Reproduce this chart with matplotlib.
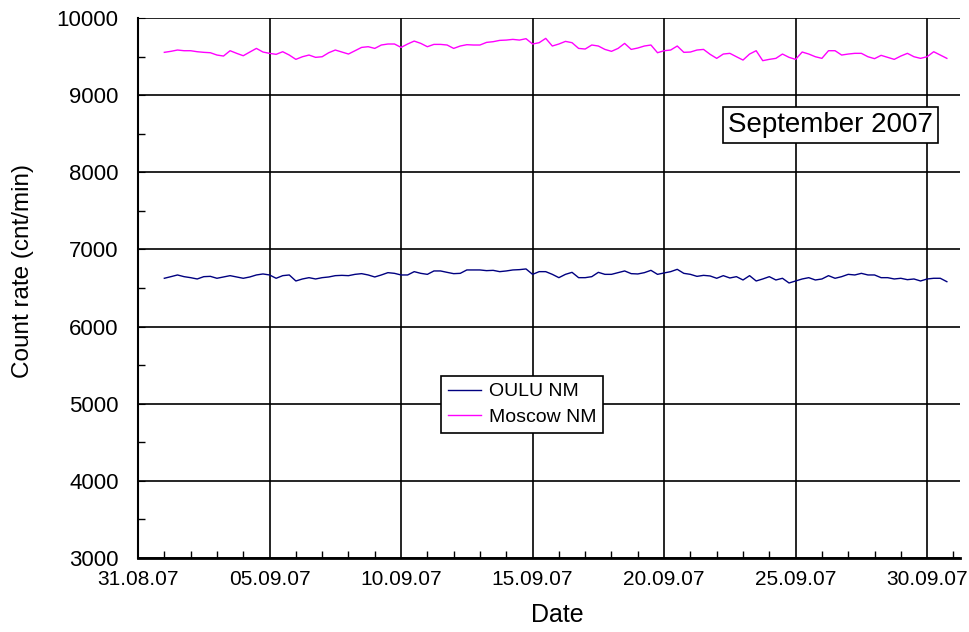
import numpy as np
import pandas as pd
import matplotlib
matplotlib.use('Agg')
import matplotlib.pyplot as plt
import matplotlib.dates as mdates
from matplotlib.ticker import MultipleLocator

plt.rcParams['font.family'] = ['Liberation Sans', 'DejaVu Sans']

# 6-hourly readings, 01.09.2007 00:00 onwards
times = pd.date_range('2007-09-01 00:00', periods=120, freq='6h')

moscow = [
    9555, 9568, 9585, 9576, 9576, 9563, 9555, 9550, 9520, 9507,
    9576, 9542, 9511, 9559, 9606, 9559, 9542, 9529, 9563, 9520,
    9464, 9498, 9520, 9490, 9498, 9550, 9585, 9559, 9533, 9576,
    9619, 9628, 9606, 9650, 9663, 9663, 9619, 9663, 9701, 9671,
    9628, 9658, 9658, 9650, 9606, 9637, 9654, 9650, 9650, 9684,
    9693, 9710, 9714, 9723, 9714, 9732, 9663, 9680, 9736, 9637,
    9663, 9697, 9680, 9606, 9598, 9650, 9637, 9593, 9568, 9606,
    9671, 9593, 9611, 9637, 9650, 9550, 9576, 9585, 9637, 9555,
    9559, 9585, 9593, 9529, 9477, 9533, 9542, 9498, 9455, 9533,
    9576, 9447, 9464, 9477, 9533, 9490, 9464, 9559, 9533, 9498,
    9477, 9576, 9576, 9520, 9533, 9542, 9542, 9498, 9473, 9516,
    9490, 9464, 9507, 9542, 9498, 9477, 9498, 9563, 9520, 9477,
]

oulu = [
    6626, 6647, 6669, 6647, 6634, 6617, 6647, 6651, 6626, 6643,
    6660, 6643, 6626, 6643, 6669, 6682, 6669, 6626, 6660, 6669,
    6591, 6617, 6634, 6617, 6634, 6643, 6660, 6664, 6660, 6677,
    6686, 6669, 6643, 6669, 6699, 6690, 6669, 6669, 6712, 6690,
    6677, 6721, 6721, 6703, 6686, 6690, 6734, 6734, 6734, 6725,
    6729, 6712, 6721, 6734, 6738, 6747, 6677, 6712, 6712, 6677,
    6634, 6677, 6703, 6634, 6634, 6647, 6703, 6677, 6677, 6699,
    6721, 6686, 6682, 6699, 6729, 6677, 6695, 6712, 6742, 6690,
    6677, 6651, 6664, 6656, 6626, 6660, 6630, 6647, 6604, 6660,
    6591, 6617, 6647, 6604, 6626, 6565, 6591, 6617, 6634, 6604,
    6617, 6660, 6626, 6647, 6677, 6669, 6690, 6669, 6669, 6634,
    6634, 6617, 6626, 6608, 6617, 6591, 6617, 6626, 6626, 6582,
]

fig = plt.figure(figsize=(9.7, 6.32), dpi=100)
ax = fig.add_axes([0.1423, 0.1171, 0.8474, 0.8544])

ax.plot(times, oulu, color='#000080', lw=1.0, label='OULU NM')
ax.plot(times, moscow, color='#FF00FF', lw=1.0, label='Moscow NM')

ax.set_xlim(pd.Timestamp('2007-08-31 00:00'), pd.Timestamp('2007-10-01 06:00'))
ax.set_ylim(3000, 10000)

ax.set_xticks(pd.date_range('2007-08-31', '2007-09-30', freq='5D'))
ax.xaxis.set_major_formatter(mdates.DateFormatter('%d.%m.%y'))
ax.xaxis.set_minor_locator(mdates.DayLocator())
ax.yaxis.set_major_locator(MultipleLocator(1000))
ax.yaxis.set_minor_locator(MultipleLocator(500))

ax.tick_params(axis='x', which='major', direction='in', length=0, labelsize=15, pad=9)
ax.tick_params(axis='x', which='minor', direction='in', length=5, width=1)
ax.tick_params(axis='y', which='major', direction='in', length=5, labelsize=16, pad=14)
ax.tick_params(axis='y', which='minor', direction='in', length=5, width=1)

ax.grid(True, which='major', color='black', lw=1.2)
for s in ['top', 'right']:
    ax.spines[s].set_visible(False)
ax.spines['bottom'].set_linewidth(2)
ax.spines['left'].set_linewidth(1.5)

ax.set_ylabel('Count rate (cnt/min)', fontsize=17.5)
ax.yaxis.set_label_coords(-0.127, 0.531)
ax.set_xlabel('Date', fontsize=18)
ax.xaxis.set_label_coords(0.51, -0.083)

leg = ax.legend(loc='upper left', bbox_to_anchor=(0.3686, 0.337), borderaxespad=0,
                fontsize=14, fancybox=False, framealpha=1, edgecolor='black',
                handlelength=1.7, handletextpad=0.4, borderpad=0.35,
                labelspacing=0.4)
leg.get_frame().set_linewidth(1.2)

ax.text(0.842, 0.801, 'September 2007', transform=ax.transAxes, fontsize=20,
        ha='center', va='center',
        bbox=dict(boxstyle='square,pad=0.18', fc='white', ec='black', lw=1.2))

fig.savefig('out.png', dpi=100)
